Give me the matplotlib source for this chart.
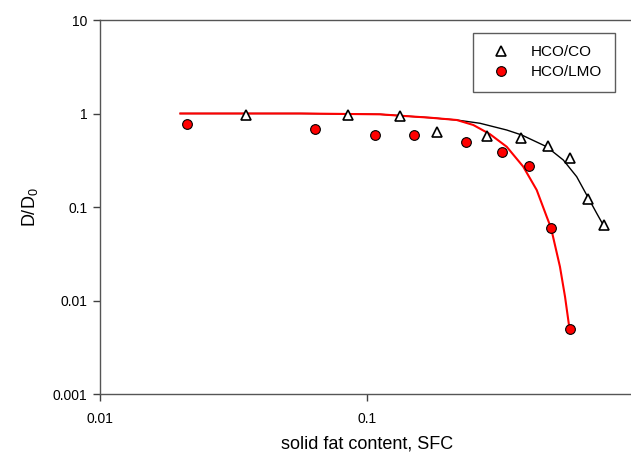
import matplotlib
matplotlib.use("Agg")
import matplotlib.pyplot as plt

plt.rcParams['font.family'] = ['Liberation Sans', 'DejaVu Sans']
plt.rcParams['mathtext.default'] = 'regular'

# -----------------------
# data
# -----------------------
co_sfc = [0.0352, 0.0848, 0.133, 0.183, 0.281, 0.378, 0.476, 0.576, 0.674, 0.770]
co_d = [0.96, 0.97, 0.93, 0.63, 0.58, 0.547, 0.453, 0.332, 0.122, 0.0637]

lmo_sfc = [0.0212, 0.0638, 0.107, 0.150, 0.234, 0.319, 0.404, 0.490, 0.574]
lmo_d = [0.778, 0.689, 0.593, 0.59, 0.495, 0.387, 0.275, 0.0592, 0.00499]

# fitted curves
co_fit_x = [0.02, 0.0564, 0.1119, 0.133, 0.1722, 0.2168, 0.265, 0.3336, 0.3797,
            0.471, 0.5435, 0.61, 0.665, 0.725, 0.767]
co_fit_y = [1.0, 1.0, 0.980, 0.947, 0.902, 0.852, 0.786, 0.666, 0.589,
            0.441, 0.318, 0.211, 0.1344, 0.0856, 0.0642]

lmo_fit_x = [0.02, 0.0564, 0.1119, 0.133, 0.1722, 0.2168, 0.25, 0.2888, 0.3336,
             0.3848, 0.4321, 0.471, 0.489, 0.528, 0.5516, 0.573]
lmo_fit_y = [1.0, 1.0, 0.980, 0.947, 0.902, 0.852, 0.754, 0.601, 0.441,
             0.270, 0.152, 0.0788, 0.0596, 0.0230, 0.0110, 0.00504]

fig = plt.figure(figsize=(6.31, 4.55), dpi=100)
ax = fig.add_axes([100/631, 1 - 394/455, 534/631, 374/455])

ax.plot(co_fit_x, co_fit_y, color='black', lw=1)
ax.plot(lmo_fit_x, lmo_fit_y, color='red', lw=1.5)
ax.plot(co_sfc, co_d, ls='none', marker='^', ms=6.5, mfc='white', mec='black', mew=1.2, label='HCO/CO')
ax.plot(lmo_sfc, lmo_d, ls='none', marker='o', ms=7, mfc='red', mec='black', mew=0.8, label='HCO/LMO')

ax.set_xscale('log')
ax.set_yscale('log')
ax.set_xlim(0.01, 1)
ax.set_ylim(0.001, 10)
ax.set_xticks([0.01, 0.1, 1])
ax.set_xticklabels(['0.01', '0.1', '1'])
ax.set_yticks([0.001, 0.01, 0.1, 1, 10])
ax.set_yticklabels(['0.001', '0.01', '0.1', '1', '10'])
ax.minorticks_off()
ax.tick_params(direction='out', length=5, width=1, labelsize=10, color='#404040', pad=4)
ax.tick_params(axis='x', pad=8)

for s in ['left', 'bottom', 'top']:
    ax.spines[s].set_color('#555555')
    ax.spines[s].set_linewidth(1)
ax.spines['right'].set_visible(False)

ax.set_xlabel('solid fat content, SFC', fontsize=13, labelpad=7)
ax.set_ylabel('D/D$_0$', fontsize=13, labelpad=9)

leg = ax.legend(loc='upper left', bbox_to_anchor=(373/534, 1 - 13/374), fontsize=11,
                frameon=True, fancybox=False, edgecolor='#333333', borderpad=0.8,
                borderaxespad=0, handletextpad=1.0, labelspacing=0.4)
leg.get_frame().set_linewidth(1)

fig.savefig('out.png', dpi=100)
